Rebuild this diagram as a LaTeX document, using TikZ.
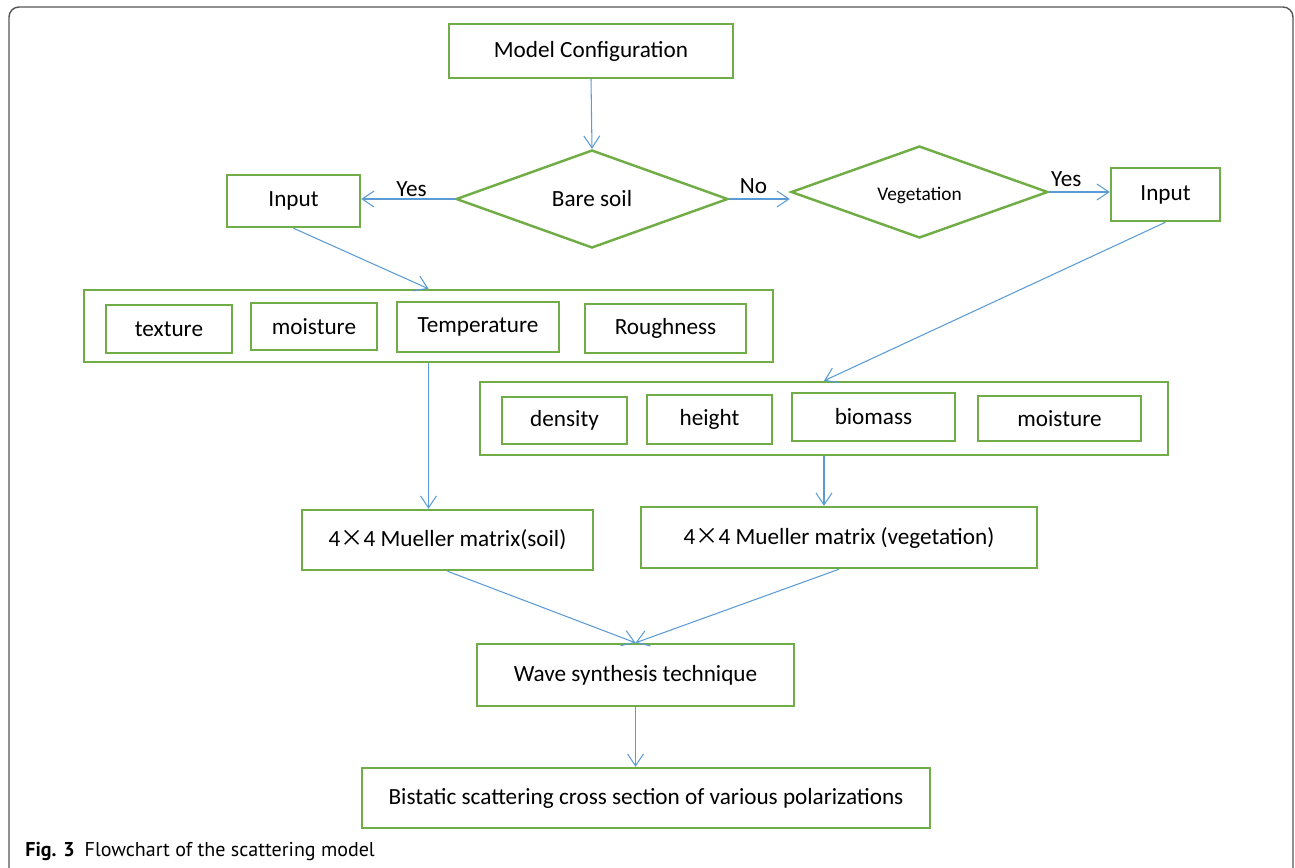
\documentclass[tikz,border=0pt]{standalone}
\usepackage{fontspec}
\setmainfont{Carlito}
\newfontfamily\capfont{PT Sans}
\newfontfamily\cjk{Noto Sans CJK SC}
\usetikzlibrary{shapes.geometric,arrows.meta}
\definecolor{boxgreen}{HTML}{70AD47}
\definecolor{flowblue}{HTML}{5B9BD5}
\definecolor{framegray}{HTML}{555555}
\tikzset{
  box/.style={draw=boxgreen, line width=1.4pt, inner sep=0pt, font=\fontsize{13.2}{15}\selectfont},
  decision/.style={diamond, aspect=2.8, draw=boxgreen, line width=1.4pt, inner sep=0pt},
  flow/.style={draw=flowblue, line width=0.6pt, -{Straight Barb[length=0.24cm, width=0.32cm]}},
  yesno/.style={font=\fontsize{13.2}{15}\selectfont, inner sep=1pt}
}
\newcommand{\by}{{\cjk ×}}
\begin{document}
\begin{tikzpicture}[x=0.02cm, y=-0.02cm]
  \useasboundingbox (0,0) rectangle (1295,867);
  \draw[framegray, line width=0.8pt, rounded corners=0.2cm] (9,7) rectangle (1293,878);

  \node[box, minimum width=5.68cm, minimum height=1.08cm] (config) at (591,51) {Model Configuration};
  \node[decision, minimum width=5.44cm, minimum height=1.96cm, font=\fontsize{13.2}{15}\selectfont] (bare) at (592,199) {Bare soil};
  \node[decision, minimum width=5.14cm, minimum height=1.84cm, font=\fontsize{11}{13}\selectfont] (veg) at (919.5,192) {\smash{\raisebox{-5pt}{Vegetation}}};
  \node[box, minimum width=2.66cm, minimum height=1.04cm] (inputL) at (293.5,201) {Input};
  \node[box, minimum width=2.18cm, minimum height=1.06cm] (inputR) at (1165.5,194.5) {Input};

  % soil parameters
  \node[box, minimum width=13.78cm, minimum height=1.44cm] (soilgrp) at (428.5,326) {};
  \foreach \name/\cx/\cy/\w/\h/\txt in {texture/169/329/2.52/0.96/texture,
      soilmoist/314/326.5/2.52/0.94/moisture,
      temp/478/327/3.24/1.0/Temperature,
      rough/665.5/328.5/3.22/0.98/Roughness} {
    \node[box, minimum width=\w cm, minimum height=\h cm] (\name) at (\cx,\cy) {\txt};
  }

  % vegetation parameters
  \node[box, minimum width=13.76cm, minimum height=1.46cm] (veggrp) at (824,418.5) {};
  \foreach \name/\cx/\cy/\w/\h/\txt in {density/564.5/420.5/2.5/0.94/density,
      height/709.5/419.5/2.5/0.98/height,
      biomass/873.5/417/3.26/0.96/biomass,
      vegmoist/1059.5/418.5/3.26/0.9/moisture} {
    \node[box, minimum width=\w cm, minimum height=\h cm] (\name) at (\cx,\cy) {\txt};
  }

  \node[box, minimum width=5.82cm, minimum height=1.2cm] (muesoil) at (447.5,540) {4\by 4 Mueller matrix(soil)};
  \node[box, minimum width=7.92cm, minimum height=1.22cm] (mueveg) at (839,537.5) {4\by 4 Mueller matrix (vegetation)};
  \node[box, minimum width=6.34cm, minimum height=1.24cm] (wave) at (635.5,675) {Wave synthesis technique};
  \node[box, minimum width=11.36cm, minimum height=1.2cm] (bistatic) at (646,798) {Bistatic scattering cross section of various polarizations};

  \draw[flow] (config.south) -- (bare.north);
  \draw[flow] (bare.west) -- (bare.west -| inputL.east) node[yesno, midway, above, xshift=2pt] (yesL) {Yes};
  \draw[flow] (bare.east) -- (bare.east -| veg.west) node[yesno, midway, above, xshift=-3.4pt, yshift=2pt] (noR) {No};
  \draw[flow] (veg.east) -- (veg.east -| inputR.west) node[yesno, midway, above, xshift=-7.5pt, yshift=1.7pt] (yesR) {Yes};
  \draw[flow] (inputL.south) -- (soilgrp.north);
  \draw[flow] (inputR.south) -- (veggrp.north);
  \draw[flow] (soilgrp.south) -- (soilgrp.south |- muesoil.north);
  \draw[flow] (veggrp.south) -- (veggrp.south |- mueveg.north);
  \draw[flow] (muesoil.south) -- (wave.north);
  \draw[flow] (mueveg.south) -- (wave.north);
  \draw[flow] (wave.south) -- (wave.south |- bistatic.north);

  \node[anchor=base west, inner sep=0pt, font=\capfont\fontsize{11.4}{13}\selectfont] (caption) at (25,856)
    {\textbf{Fig. 3}\hspace{0.5em}Flowchart of the scattering model};
\end{tikzpicture}
\end{document}
